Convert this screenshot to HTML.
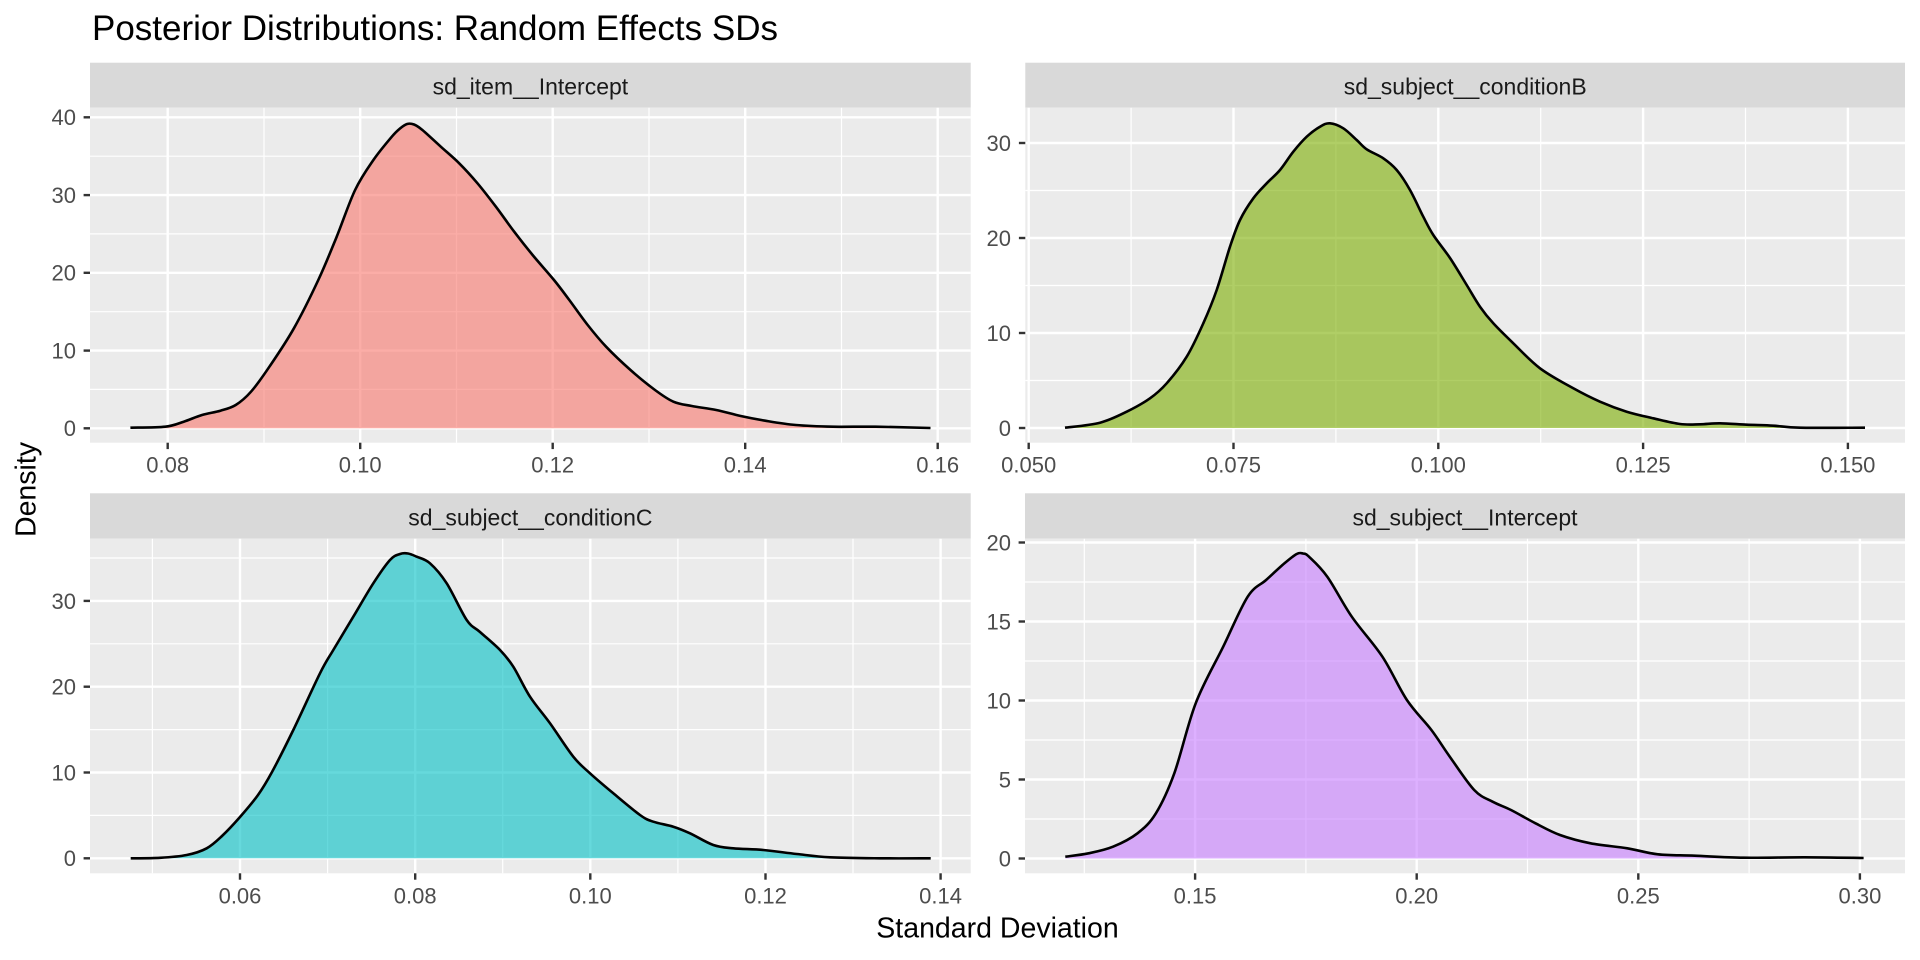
<!DOCTYPE html>
<html>
<head>
<meta charset="utf-8">
<style>
html,body{margin:0;padding:0;background:#fff;}
svg{display:block;}
text{font-family:"Liberation Sans",Arial,sans-serif;}
.tx{font-size:22px;fill:#4D4D4D;}
.st{font-size:23px;fill:#1A1A1A;}
.maj{stroke:#fff;stroke-width:2.4;fill:none;}
.min{stroke:#fff;stroke-width:1.2;fill:none;}
.tk{stroke:#333;stroke-width:2.4;}
.cv{fill:none;stroke:#000;stroke-width:2.6;stroke-linejoin:round;stroke-linecap:butt;}
</style>
</head>
<body>
<svg id="chart" width="1920" height="960" viewBox="0 0 1920 960" xmlns="http://www.w3.org/2000/svg">
<rect x="0" y="0" width="1920" height="960" fill="#fff"/>

<!-- Title -->
<text x="92" y="40" style="font-size:35px;fill:#000;">Posterior Distributions: Random Effects SDs</text>

<!-- ============ Panel 1 (top-left) ============ -->
<rect x="90" y="62.7" width="880.7" height="45" fill="#D9D9D9"/>
<text class="st" x="530.4" y="94.7" text-anchor="middle">sd_item__Intercept</text>
<rect x="90" y="107.7" width="880.7" height="335" fill="#EBEBEB"/>
<g class="min">
<line x1="90" x2="970.7" y1="389.4" y2="389.4"/><line x1="90" x2="970.7" y1="311.7" y2="311.7"/>
<line x1="90" x2="970.7" y1="233.9" y2="233.9"/><line x1="90" x2="970.7" y1="156.2" y2="156.2"/>
<line x1="264" x2="264" y1="107.7" y2="442.7"/><line x1="456.5" x2="456.5" y1="107.7" y2="442.7"/>
<line x1="649" x2="649" y1="107.7" y2="442.7"/><line x1="841.5" x2="841.5" y1="107.7" y2="442.7"/>
</g>
<g class="maj">
<line x1="90" x2="970.7" y1="428.3" y2="428.3"/><line x1="90" x2="970.7" y1="350.6" y2="350.6"/>
<line x1="90" x2="970.7" y1="272.8" y2="272.8"/><line x1="90" x2="970.7" y1="195.1" y2="195.1"/>
<line x1="90" x2="970.7" y1="117.3" y2="117.3"/>
<line x1="167.7" x2="167.7" y1="107.7" y2="442.7"/><line x1="360.2" x2="360.2" y1="107.7" y2="442.7"/>
<line x1="552.7" x2="552.7" y1="107.7" y2="442.7"/><line x1="745.2" x2="745.2" y1="107.7" y2="442.7"/>
<line x1="937.7" x2="937.7" y1="107.7" y2="442.7"/>
</g>
<g class="dens">
<polygon fill="#F8766D" fill-opacity="0.6" points="130.4,428.3 130.4,427.7 165.3,426.7 183.7,421.7 202,415 220.4,410.7 235.7,405 251,391.7 269.4,366.7 293.9,328.3 318.3,280 336.7,236.7 355.1,190 373.4,160 391.8,136.7 400,128.5 407.1,124 414,124.5 422.4,130 440.8,146.7 459.2,163.3 477.5,183.3 495.9,206.7 514.2,231.7 532.6,255 554,280 569.3,300 587.7,325 606.1,346.7 630.5,370 655,390 673.4,401.7 691.8,406 716.2,410 740.7,416 765.2,420.7 795.9,425 832.6,426.7 875.5,426.7 930.5,428 930.5,428.3"/>
<polyline class="cv" points="130.4,427.7 165.3,426.7 183.7,421.7 202,415 220.4,410.7 235.7,405 251,391.7 269.4,366.7 293.9,328.3 318.3,280 336.7,236.7 355.1,190 373.4,160 391.8,136.7 400,128.5 407.1,124 414,124.5 422.4,130 440.8,146.7 459.2,163.3 477.5,183.3 495.9,206.7 514.2,231.7 532.6,255 554,280 569.3,300 587.7,325 606.1,346.7 630.5,370 655,390 673.4,401.7 691.8,406 716.2,410 740.7,416 765.2,420.7 795.9,425 832.6,426.7 875.5,426.7 930.5,428"/>
</g>
<g class="tk">
<line x1="83.6" x2="90" y1="428.3" y2="428.3"/><line x1="83.6" x2="90" y1="350.6" y2="350.6"/>
<line x1="83.6" x2="90" y1="272.8" y2="272.8"/><line x1="83.6" x2="90" y1="195.1" y2="195.1"/>
<line x1="83.6" x2="90" y1="117.3" y2="117.3"/>
<line x1="167.7" x2="167.7" y1="442.7" y2="449.1"/><line x1="360.2" x2="360.2" y1="442.7" y2="449.1"/>
<line x1="552.7" x2="552.7" y1="442.7" y2="449.1"/><line x1="745.2" x2="745.2" y1="442.7" y2="449.1"/>
<line x1="937.7" x2="937.7" y1="442.7" y2="449.1"/>
</g>
<g class="tx" text-anchor="end">
<text x="76" y="436.2">0</text><text x="76" y="358.5">10</text><text x="76" y="280.7">20</text>
<text x="76" y="203">30</text><text x="76" y="125.2">40</text>
</g>
<g class="tx" text-anchor="middle">
<text x="167.7" y="472.5">0.08</text><text x="360.2" y="472.5">0.10</text><text x="552.7" y="472.5">0.12</text>
<text x="745.2" y="472.5">0.14</text><text x="937.7" y="472.5">0.16</text>
</g>

<!-- ============ Panel 2 (top-right) ============ -->
<rect x="1025.3" y="62.7" width="879.7" height="45" fill="#D9D9D9"/>
<text class="st" x="1465.2" y="94.7" text-anchor="middle">sd_subject__conditionB</text>
<rect x="1025.3" y="107.7" width="879.7" height="335" fill="#EBEBEB"/>
<g class="min">
<line x1="1025.3" x2="1905" y1="380.5" y2="380.5"/><line x1="1025.3" x2="1905" y1="285.5" y2="285.5"/>
<line x1="1025.3" x2="1905" y1="190.5" y2="190.5"/>
<line x1="1131.1" x2="1131.1" y1="107.7" y2="442.7"/><line x1="1335.9" x2="1335.9" y1="107.7" y2="442.7"/>
<line x1="1540.7" x2="1540.7" y1="107.7" y2="442.7"/><line x1="1745.5" x2="1745.5" y1="107.7" y2="442.7"/>
</g>
<g class="maj">
<line x1="1025.3" x2="1905" y1="428" y2="428"/><line x1="1025.3" x2="1905" y1="333" y2="333"/>
<line x1="1025.3" x2="1905" y1="238" y2="238"/><line x1="1025.3" x2="1905" y1="143" y2="143"/>
<line x1="1028.7" x2="1028.7" y1="107.7" y2="442.7"/><line x1="1233.5" x2="1233.5" y1="107.7" y2="442.7"/>
<line x1="1438.3" x2="1438.3" y1="107.7" y2="442.7"/><line x1="1643.1" x2="1643.1" y1="107.7" y2="442.7"/>
<line x1="1847.9" x2="1847.9" y1="107.7" y2="442.7"/>
</g>
<g class="dens">
<polygon fill="#7CAE00" fill-opacity="0.6" points="1065,428 1065,427.7 1100,422.7 1126.7,411.7 1150,398.3 1166.7,383.3 1186.7,356.7 1203.3,323.3 1216.7,290 1230,246.7 1240,220 1253.3,198.3 1266.7,183.3 1280,170 1293.3,151.7 1306.7,136.7 1320,126.7 1330,123.3 1343.3,128.3 1356.7,140 1366.7,149.3 1383.3,158.3 1396.7,170 1410,190 1423.3,216.7 1433.3,235 1450,258 1466.7,285 1480,306.7 1493.3,323.3 1513.3,343.3 1540,368.3 1573.3,388.3 1600,401.7 1626.7,411.7 1653.3,418.3 1680,424 1700,424.3 1720,423.3 1746.7,424.7 1773.3,425.7 1800,427.7 1865,427.7 1865,428"/>
<polyline class="cv" points="1065,427.7 1100,422.7 1126.7,411.7 1150,398.3 1166.7,383.3 1186.7,356.7 1203.3,323.3 1216.7,290 1230,246.7 1240,220 1253.3,198.3 1266.7,183.3 1280,170 1293.3,151.7 1306.7,136.7 1320,126.7 1330,123.3 1343.3,128.3 1356.7,140 1366.7,149.3 1383.3,158.3 1396.7,170 1410,190 1423.3,216.7 1433.3,235 1450,258 1466.7,285 1480,306.7 1493.3,323.3 1513.3,343.3 1540,368.3 1573.3,388.3 1600,401.7 1626.7,411.7 1653.3,418.3 1680,424 1700,424.3 1720,423.3 1746.7,424.7 1773.3,425.7 1800,427.7 1865,427.7"/>
</g>
<g class="tk">
<line x1="1018.9" x2="1025.3" y1="428" y2="428"/><line x1="1018.9" x2="1025.3" y1="333" y2="333"/>
<line x1="1018.9" x2="1025.3" y1="238" y2="238"/><line x1="1018.9" x2="1025.3" y1="143" y2="143"/>
<line x1="1028.7" x2="1028.7" y1="442.7" y2="449.1"/><line x1="1233.5" x2="1233.5" y1="442.7" y2="449.1"/>
<line x1="1438.3" x2="1438.3" y1="442.7" y2="449.1"/><line x1="1643.1" x2="1643.1" y1="442.7" y2="449.1"/>
<line x1="1847.9" x2="1847.9" y1="442.7" y2="449.1"/>
</g>
<g class="tx" text-anchor="end">
<text x="1011" y="435.9">0</text><text x="1011" y="340.9">10</text><text x="1011" y="245.9">20</text><text x="1011" y="150.9">30</text>
</g>
<g class="tx" text-anchor="middle">
<text x="1028.7" y="472.5">0.050</text><text x="1233.5" y="472.5">0.075</text><text x="1438.3" y="472.5">0.100</text>
<text x="1643.1" y="472.5">0.125</text><text x="1847.9" y="472.5">0.150</text>
</g>

<!-- ============ Panel 3 (bottom-left) ============ -->
<rect x="90" y="493.3" width="880.7" height="45.4" fill="#D9D9D9"/>
<text class="st" x="530.4" y="525.3" text-anchor="middle">sd_subject__conditionC</text>
<rect x="90" y="538.7" width="880.7" height="334.6" fill="#EBEBEB"/>
<g class="min">
<line x1="90" x2="970.7" y1="815.4" y2="815.4"/><line x1="90" x2="970.7" y1="729.6" y2="729.6"/>
<line x1="90" x2="970.7" y1="643.8" y2="643.8"/><line x1="90" x2="970.7" y1="558" y2="558"/>
<line x1="152.4" x2="152.4" y1="538.7" y2="873.3"/><line x1="327.6" x2="327.6" y1="538.7" y2="873.3"/>
<line x1="502.7" x2="502.7" y1="538.7" y2="873.3"/><line x1="677.9" x2="677.9" y1="538.7" y2="873.3"/>
<line x1="853" x2="853" y1="538.7" y2="873.3"/>
</g>
<g class="maj">
<line x1="90" x2="970.7" y1="858.3" y2="858.3"/><line x1="90" x2="970.7" y1="772.5" y2="772.5"/>
<line x1="90" x2="970.7" y1="686.7" y2="686.7"/><line x1="90" x2="970.7" y1="600.9" y2="600.9"/>
<line x1="240" x2="240" y1="538.7" y2="873.3"/><line x1="415.2" x2="415.2" y1="538.7" y2="873.3"/>
<line x1="590.3" x2="590.3" y1="538.7" y2="873.3"/><line x1="765.5" x2="765.5" y1="538.7" y2="873.3"/>
<line x1="940.6" x2="940.6" y1="538.7" y2="873.3"/>
</g>
<g class="dens">
<polygon fill="#00BFC4" fill-opacity="0.6" points="130.7,858.3 130.7,858.3 160,857.8 186.7,855 206.7,848.3 222,836 240,817 258,795 272,772 293.3,730 320,673.3 333.3,650 353.3,616.7 373.3,583.3 390,560 400,554 408,553.5 416.7,556.7 430,563.3 446.7,583.3 466.7,620 480,632 500,650 513.3,666.7 530,696.7 550,723.3 573.3,756.7 590,773.3 613.3,793.3 640,815 653.3,821.7 673.3,826.7 690,833.3 713.3,845 733.3,848.3 763.3,850 796.7,854 830,857.3 880,858.3 930.7,858.3 930.7,858.3"/>
<polyline class="cv" points="130.7,858.3 160,857.8 186.7,855 206.7,848.3 222,836 240,817 258,795 272,772 293.3,730 320,673.3 333.3,650 353.3,616.7 373.3,583.3 390,560 400,554 408,553.5 416.7,556.7 430,563.3 446.7,583.3 466.7,620 480,632 500,650 513.3,666.7 530,696.7 550,723.3 573.3,756.7 590,773.3 613.3,793.3 640,815 653.3,821.7 673.3,826.7 690,833.3 713.3,845 733.3,848.3 763.3,850 796.7,854 830,857.3 880,858.3 930.7,858.3"/>
</g>
<g class="tk">
<line x1="83.6" x2="90" y1="858.3" y2="858.3"/><line x1="83.6" x2="90" y1="772.5" y2="772.5"/>
<line x1="83.6" x2="90" y1="686.7" y2="686.7"/><line x1="83.6" x2="90" y1="600.9" y2="600.9"/>
<line x1="240" x2="240" y1="873.3" y2="879.7"/><line x1="415.2" x2="415.2" y1="873.3" y2="879.7"/>
<line x1="590.3" x2="590.3" y1="873.3" y2="879.7"/><line x1="765.5" x2="765.5" y1="873.3" y2="879.7"/>
<line x1="940.6" x2="940.6" y1="873.3" y2="879.7"/>
</g>
<g class="tx" text-anchor="end">
<text x="76" y="866.2">0</text><text x="76" y="780.4">10</text><text x="76" y="694.6">20</text><text x="76" y="608.8">30</text>
</g>
<g class="tx" text-anchor="middle">
<text x="240" y="903.3">0.06</text><text x="415.2" y="903.3">0.08</text><text x="590.3" y="903.3">0.10</text>
<text x="765.5" y="903.3">0.12</text><text x="940.6" y="903.3">0.14</text>
</g>

<!-- ============ Panel 4 (bottom-right) ============ -->
<rect x="1025" y="493.3" width="880" height="45.4" fill="#D9D9D9"/>
<text class="st" x="1465" y="525.3" text-anchor="middle">sd_subject__Intercept</text>
<rect x="1025" y="538.7" width="880" height="334.6" fill="#EBEBEB"/>
<g class="min">
<line x1="1025" x2="1905" y1="819" y2="819"/><line x1="1025" x2="1905" y1="740" y2="740"/>
<line x1="1025" x2="1905" y1="661" y2="661"/><line x1="1025" x2="1905" y1="582" y2="582"/>
<line x1="1084.3" x2="1084.3" y1="538.7" y2="873.3"/><line x1="1305.9" x2="1305.9" y1="538.7" y2="873.3"/>
<line x1="1527.5" x2="1527.5" y1="538.7" y2="873.3"/><line x1="1749.1" x2="1749.1" y1="538.7" y2="873.3"/>
</g>
<g class="maj">
<line x1="1025" x2="1905" y1="858.5" y2="858.5"/><line x1="1025" x2="1905" y1="779.5" y2="779.5"/>
<line x1="1025" x2="1905" y1="700.5" y2="700.5"/><line x1="1025" x2="1905" y1="621.5" y2="621.5"/>
<line x1="1025" x2="1905" y1="542.5" y2="542.5"/>
<line x1="1195.1" x2="1195.1" y1="538.7" y2="873.3"/><line x1="1416.7" x2="1416.7" y1="538.7" y2="873.3"/>
<line x1="1638.3" x2="1638.3" y1="538.7" y2="873.3"/><line x1="1859.9" x2="1859.9" y1="538.7" y2="873.3"/>
</g>
<g class="dens">
<polygon fill="#C77CFF" fill-opacity="0.6" points="1065.3,858.5 1065.3,856.7 1088.6,853.3 1113,846.7 1137.5,833.3 1155.9,813.3 1174.3,773.3 1195.7,703.3 1223.2,646.7 1247.7,596.7 1266.1,580 1284.5,563.3 1296.7,554 1303,553.5 1309,556.7 1327.3,576.7 1351.8,616.7 1382.4,656.7 1406.9,700 1431.4,730 1449.8,756.7 1474.2,790 1492.6,801.7 1511,810 1535.5,823.3 1560,835 1590.6,843.3 1627.3,848.3 1657.9,854.3 1694.6,855.7 1743.6,857.7 1804.8,857.3 1863.6,858 1863.6,858.5"/>
<polyline class="cv" points="1065.3,856.7 1088.6,853.3 1113,846.7 1137.5,833.3 1155.9,813.3 1174.3,773.3 1195.7,703.3 1223.2,646.7 1247.7,596.7 1266.1,580 1284.5,563.3 1296.7,554 1303,553.5 1309,556.7 1327.3,576.7 1351.8,616.7 1382.4,656.7 1406.9,700 1431.4,730 1449.8,756.7 1474.2,790 1492.6,801.7 1511,810 1535.5,823.3 1560,835 1590.6,843.3 1627.3,848.3 1657.9,854.3 1694.6,855.7 1743.6,857.7 1804.8,857.3 1863.6,858"/>
</g>
<g class="tk">
<line x1="1018.6" x2="1025" y1="858.5" y2="858.5"/><line x1="1018.6" x2="1025" y1="779.5" y2="779.5"/>
<line x1="1018.6" x2="1025" y1="700.5" y2="700.5"/><line x1="1018.6" x2="1025" y1="621.5" y2="621.5"/>
<line x1="1018.6" x2="1025" y1="542.5" y2="542.5"/>
<line x1="1195.1" x2="1195.1" y1="873.3" y2="879.7"/><line x1="1416.7" x2="1416.7" y1="873.3" y2="879.7"/>
<line x1="1638.3" x2="1638.3" y1="873.3" y2="879.7"/><line x1="1859.9" x2="1859.9" y1="873.3" y2="879.7"/>
</g>
<g class="tx" text-anchor="end">
<text x="1011" y="866.4">0</text><text x="1011" y="787.4">5</text><text x="1011" y="708.4">10</text>
<text x="1011" y="629.4">15</text><text x="1011" y="550.4">20</text>
</g>
<g class="tx" text-anchor="middle">
<text x="1195.1" y="903.3">0.15</text><text x="1416.7" y="903.3">0.20</text>
<text x="1638.3" y="903.3">0.25</text><text x="1859.9" y="903.3">0.30</text>
</g>

<!-- Axis titles -->
<text x="997.5" y="937.3" text-anchor="middle" style="font-size:28.5px;fill:#000;">Standard Deviation</text>
<text transform="translate(35.5,489.5) rotate(-90)" text-anchor="middle" style="font-size:28.5px;fill:#000;">Density</text>
</svg>
<script>
(function(){
  var NS="http://www.w3.org/2000/svg";
  function parse(s){
    return s.trim().split(/\s+/).map(function(p){var a=p.split(",");return [parseFloat(a[0]),parseFloat(a[1])];});
  }
  function smooth(pts){
    var d="";
    for(var i=0;i<pts.length-1;i++){
      var p0=pts[i>0?i-1:i],p1=pts[i],p2=pts[i+1],p3=pts[i+2<pts.length?i+2:i+1];
      var c1x=p1[0]+(p2[0]-p0[0])/6,c1y=p1[1]+(p2[1]-p0[1])/6;
      var c2x=p2[0]-(p3[0]-p1[0])/6,c2y=p2[1]-(p3[1]-p1[1])/6;
      d+=" C"+c1x.toFixed(2)+","+c1y.toFixed(2)+" "+c2x.toFixed(2)+","+c2y.toFixed(2)+" "+p2[0].toFixed(2)+","+p2[1].toFixed(2);
    }
    return d;
  }
  try{
    var groups=document.querySelectorAll("g.dens");
    for(var g=0;g<groups.length;g++){
      var grp=groups[g];
      var pl=grp.querySelector("polyline");
      var pg=grp.querySelector("polygon");
      var pts=parse(pl.getAttribute("points"));
      var pgp=parse(pg.getAttribute("points"));
      var base=pgp[0][1];
      var curve=smooth(pts);
      var first=pts[0],last=pts[pts.length-1];
      var fill=document.createElementNS(NS,"path");
      fill.setAttribute("d","M"+first[0]+","+base+" L"+first[0]+","+first[1]+curve+" L"+last[0]+","+base+" Z");
      fill.setAttribute("fill",pg.getAttribute("fill"));
      fill.setAttribute("fill-opacity",pg.getAttribute("fill-opacity"));
      var line=document.createElementNS(NS,"path");
      line.setAttribute("d","M"+first[0]+","+first[1]+curve);
      line.setAttribute("class","cv");
      grp.insertBefore(fill,pg);
      grp.removeChild(pg);
      grp.insertBefore(line,pl);
      grp.removeChild(pl);
    }
  }catch(e){}
})();
</script>
</body>
</html>
